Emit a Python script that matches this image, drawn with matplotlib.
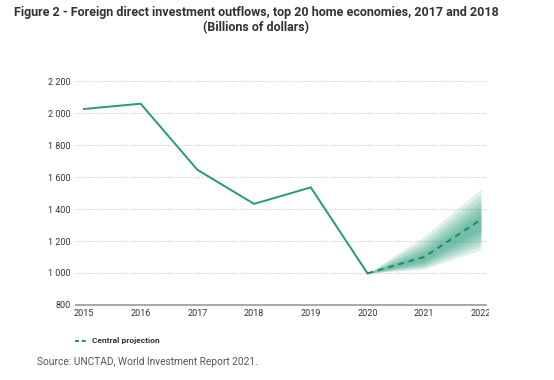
import matplotlib
matplotlib.use("Agg")
import matplotlib.pyplot as plt
from matplotlib.ticker import FuncFormatter
from matplotlib.lines import Line2D
from matplotlib.transforms import Bbox

years = [2015, 2016, 2017, 2018, 2019, 2020]
outflows = [2025, 2058, 1645, 1432, 1535, 998]

proj_years = [2020, 2021, 2022]
central = [998, 1100, 1333]
# fan bands (lower, upper), outer to inner
band_lower = [[998, 1025, 1145], [998, 1035, 1170], [998, 1045, 1195],
              [998, 1055, 1220], [998, 1065, 1245], [998, 1075, 1270]]
band_upper = [[998, 1230, 1525], [998, 1205, 1490], [998, 1180, 1455],
              [998, 1160, 1425], [998, 1140, 1395], [998, 1122, 1370]]

yticks = [800, 1000, 1200, 1400, 1600, 1800, 2000, 2200]
xticks = [2015, 2016, 2017, 2018, 2019, 2020, 2021, 2022]

title = "Figure 2 - Foreign direct investment outflows, top 20 home economies, 2017 and 2018\n(Billions of dollars)"
legend_label = "Central projection"
source = "Source: UNCTAD, World Investment Report 2021."

green = "#239b78"
dark = "#1c8a6a"

plt.rcParams['font.family'] = ['Roboto', 'DejaVu Sans']

fig = plt.figure(figsize=(5.54, 3.80), dpi=100)
ax = fig.add_axes([76/554, 1-305/380, (486-76)/554, (305-81)/380])

for lo, up in zip(band_lower, band_upper):
    ax.fill_between(proj_years, lo, up, color=green, alpha=0.15, linewidth=0)

ax.plot(years, outflows, color=green, linewidth=1.4, solid_joinstyle='miter')
ax.plot(proj_years, central, color=dark, linewidth=1.4, linestyle=(0, (3, 2.5)))

ax.set_xlim(2014.86, 2022.09)
ax.set_ylim(800, 2200)
ax.set_yticks(yticks)
ax.set_xticks(xticks)
ax.yaxis.set_major_formatter(FuncFormatter(lambda v, p: f"{int(v):,}".replace(",", " ")))
ax.grid(axis='y', color='#c4c4c4', linestyle=(0, (1, 1.5)), linewidth=0.8)
ax.set_axisbelow(True)
for s in ['top', 'right', 'left']:
    ax.spines[s].set_visible(False)
ax.spines['bottom'].set_color('#999999')
ax.spines['bottom'].set_linewidth(1.2)
ax.tick_params(axis='both', length=0, labelsize=6.5, colors='#333333')
ax.tick_params(axis='y', pad=4)
ax.tick_params(axis='x', pad=3)

# clip the x tick labels at the right edge like the reference
clipbox = Bbox.from_extents(0, 0, 489, 380)
fig.canvas.draw()
for lab in ax.get_xticklabels():
    lab.set_clip_box(clipbox)
    lab.set_clip_on(True)

fig.text(256/554, 1-20/380, title, ha='center', va='center', fontsize=9,
         fontweight='bold', color='#333333', linespacing=1.15)

handle = Line2D([], [], color=dark, linewidth=1.4, linestyle=(0, (2, 1.5)))
fig.legend([handle], [legend_label], loc='center left', bbox_to_anchor=(67/554, 1-341/380),
           frameon=False, handlelength=1.6, handletextpad=0.5,
           prop={'size': 6, 'weight': 'bold'}, labelcolor='#333333')

fig.text(37/554, 1-362/380, source, ha='left', va='center', fontsize=7.3, color='#555555')

fig.savefig("out.png", dpi=100)
